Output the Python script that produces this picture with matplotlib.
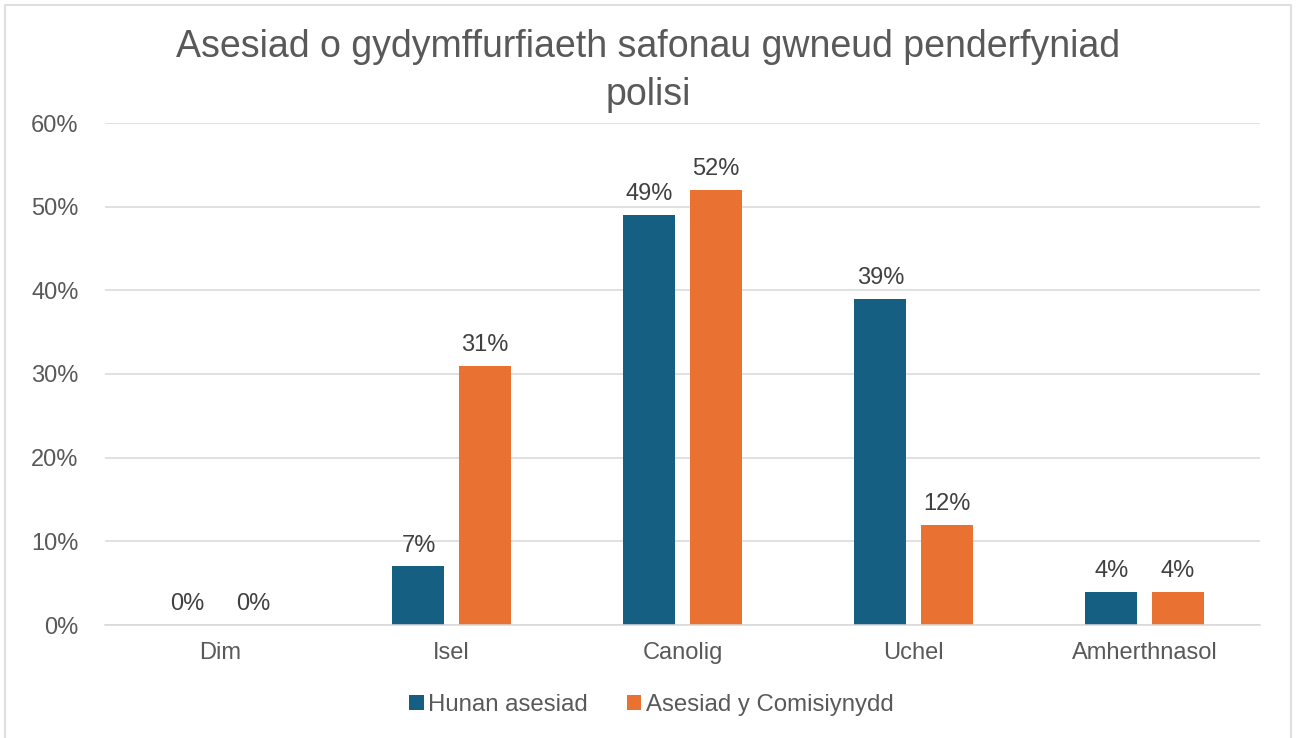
import matplotlib.pyplot as plt
import numpy as np
from matplotlib.patches import Rectangle

categories = ["Dim", "Isel", "Canolig", "Uchel", "Amherthnasol"]
hunan = [0, 7, 49, 39, 4]
comisiynydd = [0, 31, 52, 12, 4]
series_names = ["Hunan asesiad", "Asesiad y Comisiynydd"]
yticks = [0, 10, 20, 30, 40, 50, 60]

blue = "#156082"
orange = "#E97132"
txt = "#595959"

plt.rcParams["font.family"] = ["Liberation Sans", "DejaVu Sans"]

fig = plt.figure(figsize=(12.97, 7.38), dpi=100)
fig.patches.append(Rectangle((0.004, -0.01), 0.991, 1.003, transform=fig.transFigure,
                             fill=False, edgecolor="#D9D9D9", linewidth=1.2))
ax = fig.add_axes([105 / 1297, 1 - 625 / 738, 1155 / 1297, 502 / 738])

x = np.arange(len(categories))
w = 0.225
b1 = ax.bar(x - 0.143, hunan, w, color=blue, label=series_names[0])
b2 = ax.bar(x + 0.143, comisiynydd, w, color=orange, label=series_names[1])

for bars in (b1, b2):
    for r in bars:
        ax.annotate(f"{r.get_height():.0f}%", (r.get_x() + r.get_width() / 2, r.get_height()),
                    xytext=(0, 7), textcoords="offset points", ha="center", va="bottom",
                    fontsize=17, color="#404040")

ax.set_xlim(-0.5, len(categories) - 0.5)
ax.set_ylim(0, 60)
ax.set_yticks(yticks)
ax.set_yticklabels([f"{v}%" for v in yticks])
ax.set_xticks(x)
ax.set_xticklabels(categories)
ax.tick_params(axis="both", length=0, labelsize=17, labelcolor=txt)
ax.tick_params(axis="y", pad=19)
ax.tick_params(axis="x", pad=12)
ax.grid(axis="y", color="#D9D9D9", linewidth=1.1)
ax.set_axisbelow(True)
for s in ["top", "right", "left"]:
    ax.spines[s].set_visible(False)
ax.spines["bottom"].set_color("#D9D9D9")
ax.spines["bottom"].set_linewidth(1.1)

fig.text(0.5, 1 - 71 / 738, "Asesiad o gydymffurfiaeth safonau gwneud penderfyniad\npolisi",
         ha="center", va="center", fontsize=27, color=txt, linespacing=1.4)

ax.legend(loc="center", bbox_to_anchor=(0.473, -0.16), ncol=2, frameon=False,
          fontsize=17.3, labelcolor=txt, handlelength=0.6, handleheight=0.6,
          handletextpad=0.2, columnspacing=1.6)

fig.savefig("out.png", dpi=100)
